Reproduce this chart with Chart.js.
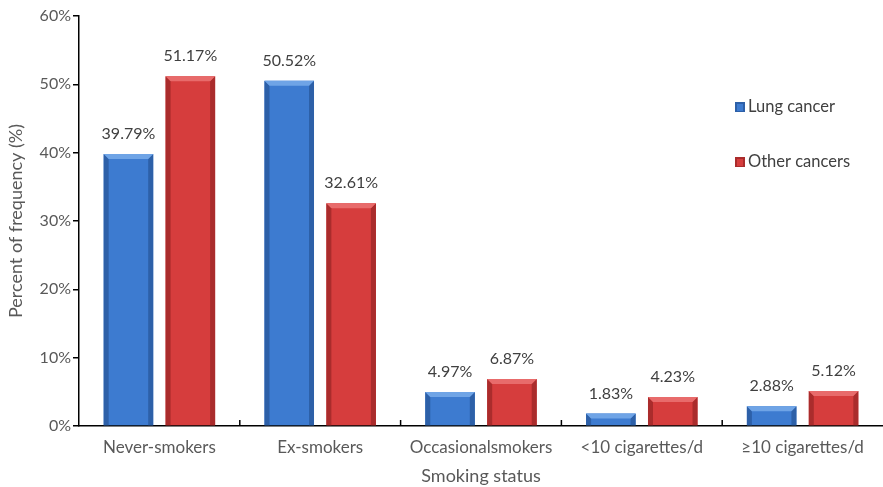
<!DOCTYPE html>
<html>
<head>
<meta charset="utf-8">
<script src="https://cdn.jsdelivr.net/npm/chart.js"></script>
<style>
  html, body { margin: 0; padding: 0; background: #fff; }
  #wrap { width: 883px; height: 487px; position: relative; }
</style>
</head>
<body>
<div id="wrap"><canvas id="chart"></canvas></div>
<script>
var categories = ["Never-smokers", "Ex-smokers", "Occasionalsmokers", "<10 cigarettes/d", "\u226510 cigarettes/d"];
var seriesNames = ["Lung cancer", "Other cancers"];
var lungCancer = [39.79, 50.52, 4.97, 1.83, 2.88];
var otherCancers = [51.17, 32.61, 6.87, 4.23, 5.12];
var yTicks = [0, 10, 20, 30, 40, 50, 60];

var FONT = "Lato, 'Open Sans', sans-serif";
var palette = [
    {main: "#3d7bd0", light: "#6fa4e6", dark: "#2d60a8"},
    {main: "#d63d3d", light: "#e86b6b", dark: "#aa2c2c"}
];

// fake 3d bevel on top of the flat bars
var bevel = {
    id: "bevel",
    afterDatasetsDraw(chart) {
        var ctx = chart.ctx;
        chart.data.datasets.forEach((ds, di) => {
            var c = palette[di];
            chart.getDatasetMeta(di).data.forEach(bar => {
                var l = bar.x - bar.width / 2, r = bar.x + bar.width / 2;
                var t = bar.y, b = bar.base;
                var e = Math.min(5, (b - t) / 2);
                ctx.save();
                ctx.fillStyle = c.dark;
                ctx.beginPath();
                ctx.moveTo(l, t); ctx.lineTo(l + e, t + e); ctx.lineTo(l + e, b); ctx.lineTo(l, b);
                ctx.closePath(); ctx.fill();
                ctx.beginPath();
                ctx.moveTo(r, t); ctx.lineTo(r - e, t + e); ctx.lineTo(r - e, b); ctx.lineTo(r, b);
                ctx.closePath(); ctx.fill();
                ctx.fillStyle = c.light;
                ctx.beginPath();
                ctx.moveTo(l, t); ctx.lineTo(r, t); ctx.lineTo(r - e, t + e); ctx.lineTo(l + e, t + e);
                ctx.closePath(); ctx.fill();
                ctx.restore();
            });
        });
    }
};

var valueLabels = {
    id: "valueLabels",
    afterDatasetsDraw(chart) {
        var ctx = chart.ctx;
        ctx.save();
        ctx.font = "16px " + FONT;
        ctx.fillStyle = "#404040";
        ctx.textAlign = "center";
        ctx.textBaseline = "middle";
        chart.data.datasets.forEach((ds, di) => {
            chart.getDatasetMeta(di).data.forEach((bar, i) => {
                ctx.fillText(ds.data[i].toFixed(2) + "%", bar.x, bar.y - 20);
            });
        });
        ctx.restore();
    }
};

// tick marks between categories, pointing up into the plot
var catTicks = {
    id: "catTicks",
    afterDraw(chart) {
        var x = chart.scales.x, ctx = chart.ctx;
        ctx.save();
        ctx.strokeStyle = "#000";
        ctx.lineWidth = 1.5;
        for (var i = 1; i < categories.length; i++) {
            var px = (x.getPixelForValue(i - 1) + x.getPixelForValue(i)) / 2;
            ctx.beginPath();
            ctx.moveTo(px, x.top);
            ctx.lineTo(px, x.top - 6);
            ctx.stroke();
        }
        ctx.restore();
    }
};

var legendBox = {
    id: "legendBox",
    afterDraw(chart) {
        var ctx = chart.ctx;
        ctx.save();
        ctx.font = "16.5px " + FONT;
        ctx.textBaseline = "middle";
        seriesNames.forEach((name, i) => {
            var y = 107 + i * 55, c = palette[i];
            ctx.fillStyle = c.dark;
            ctx.fillRect(735, y - 5, 10, 10);
            ctx.fillStyle = c.main;
            ctx.fillRect(737, y - 3, 6, 7);
            ctx.fillStyle = "#404040";
            ctx.fillText(name, 748, y);
        });
        ctx.restore();
    }
};

new Chart(document.getElementById("chart"), {
    type: "bar",
    data: {
        labels: categories,
        datasets: [
            {label: seriesNames[0], data: lungCancer, backgroundColor: palette[0].main},
            {label: seriesNames[1], data: otherCancers, backgroundColor: palette[1].main}
        ]
    },
    options: {
        responsive: true,
        maintainAspectRatio: false,
        animation: false,
        categoryPercentage: 0.77,
        barPercentage: 0.8,
        layout: {padding: {left: 0, right: -7, top: 16, bottom: 0}},
        plugins: {
            legend: {display: false},
            tooltip: {enabled: false}
        },
        scales: {
            x: {
                grid: {display: false, drawTicks: false},
                border: {color: "#000", width: 1.5},
                ticks: {color: "#595959", font: {family: FONT, size: 17}, padding: 11, maxRotation: 0, autoSkip: false},
                title: {display: true, text: "Smoking status", color: "#595959", font: {family: FONT, size: 18}, padding: {top: 0, bottom: 0}},
                afterFit(s) { s.height = 61; }
            },
            y: {
                min: 0, max: 60,
                afterBuildTicks(s) { s.ticks = yTicks.map(v => ({value: v})); },
                grid: {drawOnChartArea: false, tickLength: 6, color: "#000", lineWidth: 1.5},
                border: {color: "#000", width: 1.5},
                ticks: {color: "#595959", font: {family: FONT, size: 16}, padding: 2, callback: v => v + "%"},
                title: {display: true, text: "Percent of frequency (%)", color: "#595959", font: {family: FONT, size: 18}, padding: {top: 5, bottom: 0}},
                afterFit(s) { s.width = 79; }
            }
        }
    },
    plugins: [bevel, valueLabels, catTicks, legendBox]
});
</script>
</body>
</html>
